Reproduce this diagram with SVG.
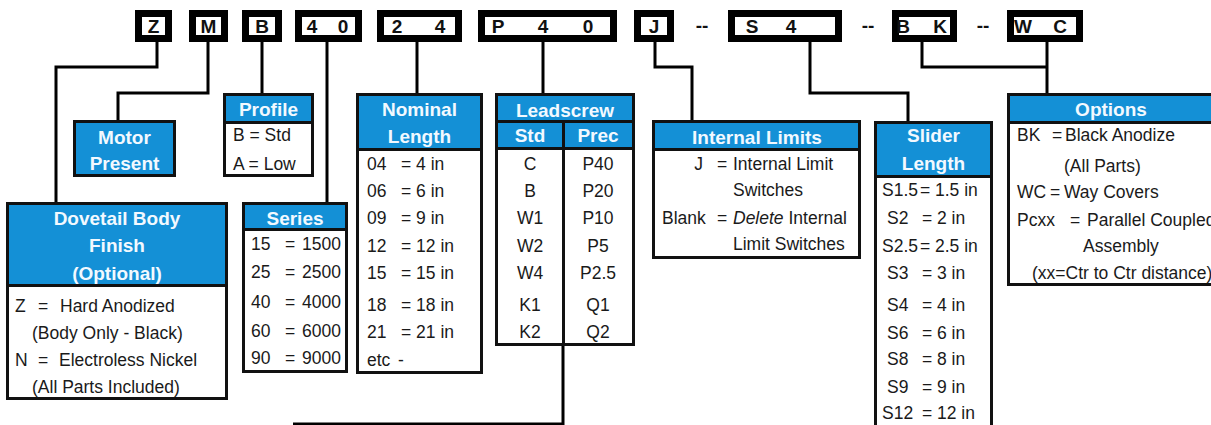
<svg xmlns="http://www.w3.org/2000/svg" width="1211" height="425" viewBox="0 0 1211 425">
<style>
.code{fill:#fff;stroke:#000;stroke-width:7}
.ct{font-family:"Liberation Sans",Arial,sans-serif;font-weight:bold;font-size:19px;fill:#111;text-anchor:middle}
.box{fill:#fff;stroke:#111;stroke-width:3}
.hd{fill:#1490d6}
.sep{stroke:#111;stroke-width:3;fill:none}
.ht{font-family:"Liberation Sans",Arial,sans-serif;font-weight:bold;font-size:19px;fill:#f2f9ff;text-anchor:middle}
.bt{font-family:"Liberation Sans",Arial,sans-serif;font-size:17.5px;fill:#1a1a1a}
.mid{text-anchor:middle}
.end{text-anchor:end}
.conn{fill:none;stroke:#000;stroke-width:3}
</style>

<!-- code row -->
<g id="code-Z"><rect class="code" x="138.5" y="13.5" width="30" height="25"/><text class="ct" x="153.5" y="33">Z</text></g>
<g id="code-M"><rect class="code" x="192.5" y="13.5" width="32" height="25"/><text class="ct" x="208.5" y="33">M</text></g>
<g id="code-B"><rect class="code" x="245.5" y="13.5" width="33" height="25"/><text class="ct" x="262" y="33">B</text></g>
<g id="code-40"><rect class="code" x="298.5" y="13.5" width="60" height="25"/><text class="ct" x="312" y="33">4</text><text class="ct" x="343" y="33">0</text></g>
<g id="code-24"><rect class="code" x="380.5" y="13.5" width="78" height="25"/><text class="ct" x="397" y="33">2</text><text class="ct" x="440" y="33">4</text></g>
<g id="code-P40"><rect class="code" x="481.5" y="13.5" width="132" height="25"/><text class="ct" x="498" y="33">P</text><text class="ct" x="543" y="33">4</text><text class="ct" x="588" y="33">0</text></g>
<g id="code-J"><rect class="code" x="637.5" y="13.5" width="33" height="25"/><text class="ct" x="654" y="33">J</text></g>
<text class="ct" x="702" y="32">--</text>
<g id="code-S4"><rect class="code" x="731.5" y="13.5" width="107" height="25"/><text class="ct" x="752" y="33">S</text><text class="ct" x="791" y="33">4</text></g>
<text class="ct" x="868" y="32">--</text>
<g id="code-BK"><rect class="code" x="895.5" y="13.5" width="58" height="25"/><text class="ct" x="903" y="33">B</text><text class="ct" x="940" y="33">K</text></g>
<text class="ct" x="983" y="32">--</text>
<g id="code-WC"><rect class="code" x="1010.5" y="13.5" width="69" height="25"/><text class="ct" x="1023" y="33">W</text><text class="ct" x="1060" y="33">C</text></g>

<!-- connectors -->
<g id="connectors">
<polyline class="conn" points="157,42 157,67 56,67 56,203"/>
<polyline class="conn" points="208,42 208,93 118,93 118,121"/>
<polyline class="conn" points="262,42 262,94"/>
<polyline class="conn" points="327,42 327,203"/>
<polyline class="conn" points="417,42 417,94"/>
<polyline class="conn" points="543,42 543,94"/>
<polyline class="conn" points="655,42 655,67 692,67 692,121"/>
<polyline class="conn" points="810,42 810,93 908,93 908,122"/>
<polyline class="conn" points="922,42 922,67 1047,67"/>
<polyline class="conn" points="1047,42 1047,94"/>
<polyline class="conn" points="563,345 563,424 293,424"/>
</g>

<!-- Motor Present -->
<g id="motor">
<rect class="box hd" x="74.5" y="121.5" width="100" height="54"/>
<text class="ht" x="124.5" y="144">Motor</text>
<text class="ht" x="124.5" y="170">Present</text>
</g>

<!-- Profile -->
<g id="profile">
<rect class="box" x="224.5" y="94.5" width="88" height="81"/>
<rect class="hd" x="226" y="96" width="85" height="26"/>
<line class="sep" x1="224.5" y1="122.5" x2="312.5" y2="122.5"/>
<text class="ht" x="268.5" y="116">Profile</text>
<text class="bt" x="233" y="141">B = Std</text>
<text class="bt" x="233" y="170">A = Low</text>
</g>

<!-- Dovetail Body Finish -->
<g id="dovetail">
<rect class="box" x="7.5" y="203.5" width="219" height="195"/>
<rect class="hd" x="9" y="205" width="216" height="80"/>
<line class="sep" x1="7.5" y1="285.5" x2="226.5" y2="285.5"/>
<text class="ht" x="117" y="225">Dovetail Body</text>
<text class="ht" x="117" y="252">Finish</text>
<text class="ht" x="117" y="280">(Optional)</text>
<text class="bt" y="312"><tspan x="15">Z</tspan><tspan x="38">=</tspan><tspan x="60">Hard Anodized</tspan></text>
<text class="bt" x="32" y="339">(Body Only - Black)</text>
<text class="bt" y="366"><tspan x="15">N</tspan><tspan x="38">=</tspan><tspan x="59">Electroless Nickel</tspan></text>
<text class="bt" x="32" y="393">(All Parts Included)</text>
</g>

<!-- Series -->
<g id="series">
<rect class="box" x="243.5" y="203.5" width="103" height="168"/>
<rect class="hd" x="245" y="205" width="100" height="24"/>
<line class="sep" x1="243.5" y1="229.5" x2="346.5" y2="229.5"/>
<text class="ht" x="295" y="225">Series</text>
<text class="bt" y="250"><tspan x="251">15</tspan><tspan x="285">=</tspan><tspan x="302">1500</tspan></text>
<text class="bt" y="278"><tspan x="251">25</tspan><tspan x="285">=</tspan><tspan x="302">2500</tspan></text>
<text class="bt" y="308"><tspan x="251">40</tspan><tspan x="285">=</tspan><tspan x="302">4000</tspan></text>
<text class="bt" y="337"><tspan x="251">60</tspan><tspan x="285">=</tspan><tspan x="302">6000</tspan></text>
<text class="bt" y="364"><tspan x="251">90</tspan><tspan x="285">=</tspan><tspan x="302">9000</tspan></text>
</g>

<!-- Nominal Length -->
<g id="nominal">
<rect class="box" x="357.5" y="94.5" width="124" height="278"/>
<rect class="hd" x="359" y="96" width="121" height="53"/>
<line class="sep" x1="357.5" y1="149.5" x2="481.5" y2="149.5"/>
<text class="ht" x="419.5" y="116">Nominal</text>
<text class="ht" x="419.5" y="143">Length</text>
<text class="bt" y="170"><tspan x="367">04</tspan><tspan x="401">= 4 in</tspan></text>
<text class="bt" y="197"><tspan x="367">06</tspan><tspan x="401">= 6 in</tspan></text>
<text class="bt" y="224"><tspan x="367">09</tspan><tspan x="401">= 9 in</tspan></text>
<text class="bt" y="252"><tspan x="367">12</tspan><tspan x="401">= 12 in</tspan></text>
<text class="bt" y="279"><tspan x="367">15</tspan><tspan x="401">= 15 in</tspan></text>
<text class="bt" y="311"><tspan x="367">18</tspan><tspan x="401">= 18 in</tspan></text>
<text class="bt" y="338"><tspan x="367">21</tspan><tspan x="401">= 21 in</tspan></text>
<text class="bt" y="366"><tspan x="367">etc</tspan><tspan x="398">-</tspan></text>
</g>

<!-- Leadscrew -->
<g id="leadscrew">
<rect class="box" x="496.5" y="94.5" width="137" height="250"/>
<rect class="hd" x="498" y="96" width="134" height="52"/>
<line class="sep" x1="496.5" y1="121.5" x2="633.5" y2="121.5"/>
<line class="sep" x1="496.5" y1="148.5" x2="633.5" y2="148.5"/>
<line class="sep" x1="563.5" y1="121.5" x2="563.5" y2="344.5"/>
<text class="ht" x="565" y="117">Leadscrew</text>
<text class="ht" x="530" y="142">Std</text>
<text class="ht" x="598" y="142">Prec</text>
<g class="bt mid">
<text x="530" y="170">C</text><text x="598" y="170">P40</text>
<text x="530" y="197">B</text><text x="598" y="197">P20</text>
<text x="530" y="224">W1</text><text x="598" y="224">P10</text>
<text x="530" y="252">W2</text><text x="598" y="252">P5</text>
<text x="530" y="279">W4</text><text x="598" y="279">P2.5</text>
<text x="530" y="311">K1</text><text x="598" y="311">Q1</text>
<text x="530" y="338">K2</text><text x="598" y="338">Q2</text>
</g>
</g>

<!-- Internal Limits -->
<g id="limits">
<rect class="box" x="653.5" y="121.5" width="206" height="136"/>
<rect class="hd" x="655" y="123" width="203" height="26"/>
<line class="sep" x1="653.5" y1="149.5" x2="859.5" y2="149.5"/>
<text class="ht" x="757" y="144">Internal Limits</text>
<text class="bt end" x="703" y="170">J</text>
<text class="bt" y="170"><tspan x="717">=</tspan><tspan x="733">Internal Limit</tspan></text>
<text class="bt" x="733" y="196">Switches</text>
<text class="bt" y="224"><tspan x="662">Blank</tspan><tspan x="717">=</tspan><tspan x="733" font-style="italic">Delete</tspan><tspan> Internal</tspan></text>
<text class="bt" x="733" y="250">Limit Switches</text>
</g>

<!-- Slider Length -->
<g id="slider">
<rect class="box" x="875.5" y="122.5" width="116" height="320"/>
<rect class="hd" x="877" y="124" width="113" height="52"/>
<line class="sep" x1="875.5" y1="176.5" x2="991.5" y2="176.5"/>
<text class="ht" x="933.5" y="142">Slider</text>
<text class="ht" x="933.5" y="170">Length</text>
<text class="bt" y="196"><tspan x="882">S1.5</tspan><tspan x="920">=</tspan><tspan x="935">1.5 in</tspan></text>
<text class="bt" y="224"><tspan x="887">S2</tspan><tspan x="922">=</tspan><tspan x="937">2 in</tspan></text>
<text class="bt" y="252"><tspan x="882">S2.5</tspan><tspan x="920">=</tspan><tspan x="935">2.5 in</tspan></text>
<text class="bt" y="279"><tspan x="887">S3</tspan><tspan x="922">=</tspan><tspan x="937">3 in</tspan></text>
<text class="bt" y="311"><tspan x="887">S4</tspan><tspan x="922">=</tspan><tspan x="937">4 in</tspan></text>
<text class="bt" y="339"><tspan x="887">S6</tspan><tspan x="922">=</tspan><tspan x="937">6 in</tspan></text>
<text class="bt" y="365"><tspan x="887">S8</tspan><tspan x="922">=</tspan><tspan x="937">8 in</tspan></text>
<text class="bt" y="393"><tspan x="887">S9</tspan><tspan x="922">=</tspan><tspan x="937">9 in</tspan></text>
<text class="bt" y="419"><tspan x="882">S12</tspan><tspan x="922">=</tspan><tspan x="937">12 in</tspan></text>
</g>

<!-- Options -->
<g id="options">
<rect class="box" x="1008.5" y="94.5" width="215" height="190"/>
<rect class="hd" x="1010" y="96" width="212" height="26"/>
<line class="sep" x1="1008.5" y1="122.5" x2="1223" y2="122.5"/>
<text class="ht" x="1111" y="116">Options</text>
<text class="bt" y="141"><tspan x="1017">BK</tspan><tspan x="1052">=</tspan><tspan x="1065">Black Anodize</tspan></text>
<text class="bt" x="1064" y="172">(All Parts)</text>
<text class="bt" y="198"><tspan x="1017">WC</tspan><tspan x="1050">=</tspan><tspan x="1064">Way Covers</tspan></text>
<text class="bt" y="226"><tspan x="1017">Pcxx</tspan><tspan x="1070">=</tspan><tspan x="1087">Parallel Coupled</tspan></text>
<text class="bt" x="1083" y="252">Assembly</text>
<text class="bt" x="1032" y="279">(xx=Ctr to Ctr distance)</text>
</g>
</svg>
